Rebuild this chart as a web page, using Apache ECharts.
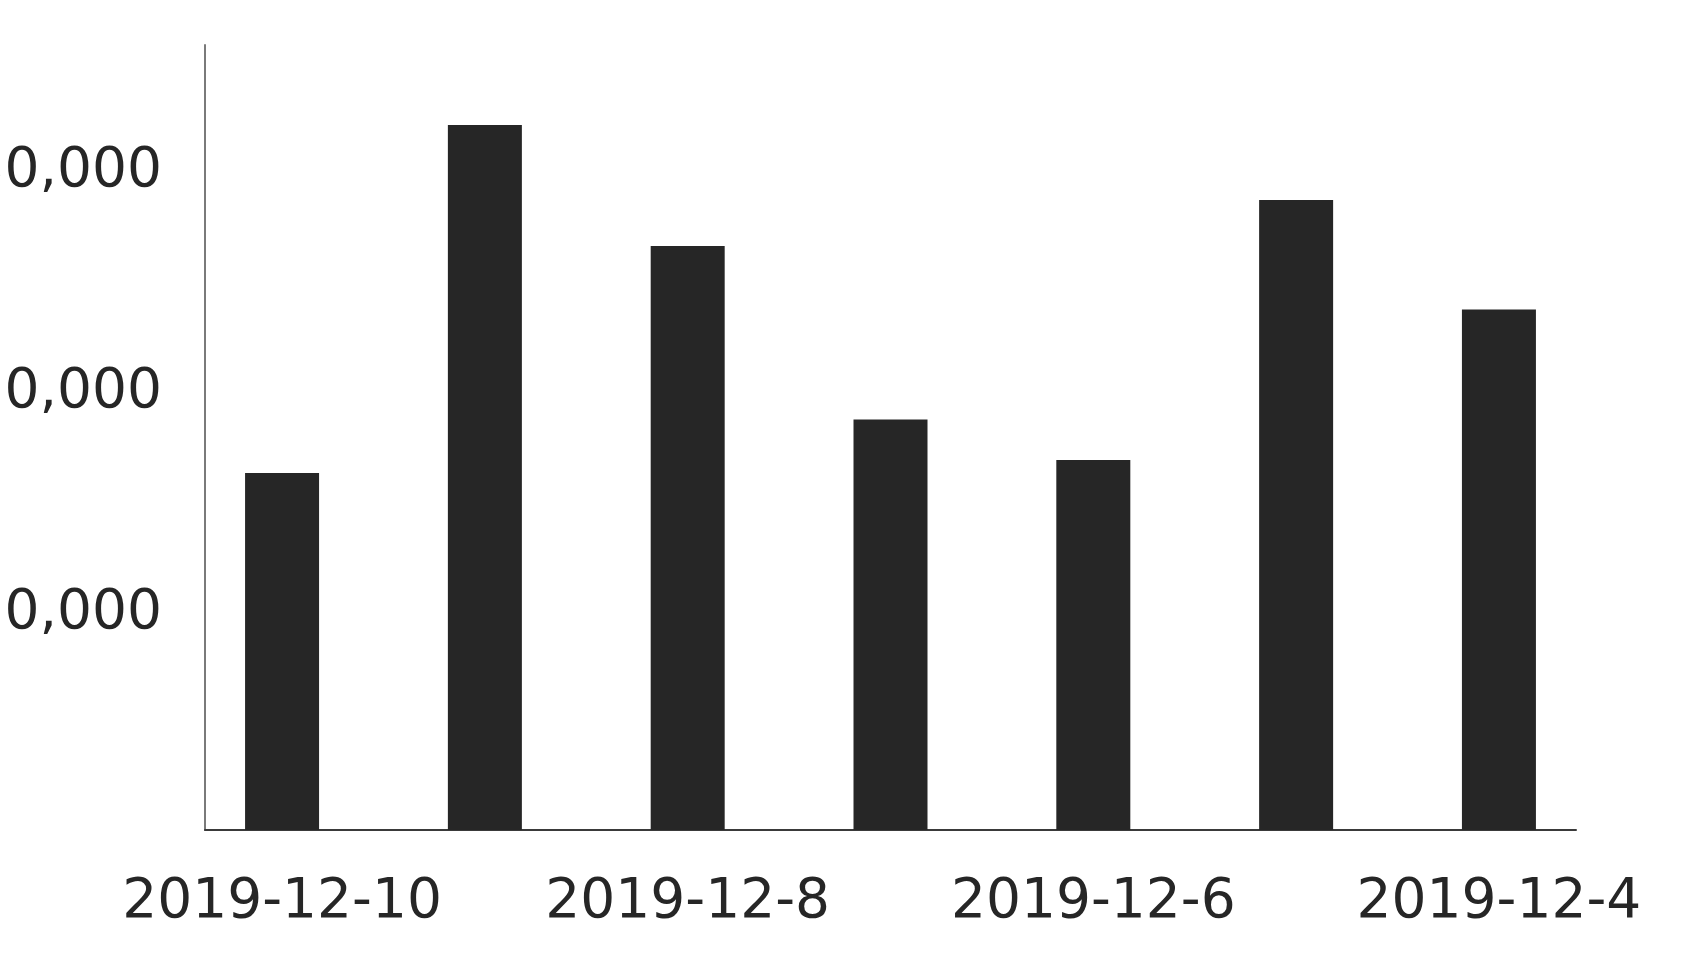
<!DOCTYPE html>
<html>
<head>
    <meta charset="utf-8" />
    <title>bar chart</title>
    <script type="text/javascript" src="https://cdn.jsdelivr.net/npm/echarts@6/dist/echarts.min.js"></script>
    <style>
        html, body { margin: 0; padding: 0; background: #fff; }
        #container { width: 1700px; height: 974px; }
    </style>
</head>
<body>
<div id="container"></div>
<script type="text/javascript">
    // data
    var categories = ['2019-12-10', '2019-12-9', '2019-12-8', '2019-12-7', '2019-12-6', '2019-12-5', '2019-12-4'];
    var values = [16150, 31900, 26430, 18580, 16740, 28510, 23550];
    var yTicks = [10000, 20000, 30000];
    var xLabelIdx = [0, 2, 4, 6];

    var barData = values.map(function (v, i) { return [i, v]; });

    var myChart = echarts.init(document.getElementById('container'));
    var textColor = '#262626';

    var option = {
        animation: false,
        backgroundColor: '#fff',
        grid: {
            left: 205,
            right: 124,
            top: 45,
            bottom: 144,
            containLabel: false,
            outerBoundsMode: 'none'   // let the y labels run off the left edge like the original
        },
        xAxis: {
            type: 'value',
            min: -0.38,
            max: 6.38,
            splitLine: { show: false },
            axisTick: { show: false },
            axisLine: {
                show: true,
                onZero: false,
                lineStyle: { color: '#3a3a3a', width: 2 }
            },
            axisLabel: {
                customValues: xLabelIdx,
                formatter: function (v) { return categories[v]; },
                color: textColor,
                fontFamily: 'DejaVu Sans',
                fontSize: 55,
                margin: 45
            }
        },
        yAxis: {
            type: 'value',
            min: 0,
            max: 35520,
            splitLine: { show: false },
            axisTick: { show: false },
            axisLine: {
                show: true,
                onZero: false,
                lineStyle: { color: '#7a7a7a', width: 2 }
            },
            axisLabel: {
                customValues: yTicks,
                formatter: function (v) { return '{t|' + v.toLocaleString('en-US') + '}'; },
                margin: 43,
                rich: {
                    t: {
                        color: textColor,
                        fontFamily: 'DejaVu Sans',
                        fontSize: 55,
                        padding: [9, 0, 0, 0]
                    }
                }
            }
        },
        series: [
            {
                type: 'bar',
                data: barData,
                barWidth: 74,
                itemStyle: { color: '#262626' }
            }
        ]
    };
    myChart.setOption(option, true);
</script>
</body>
</html>
